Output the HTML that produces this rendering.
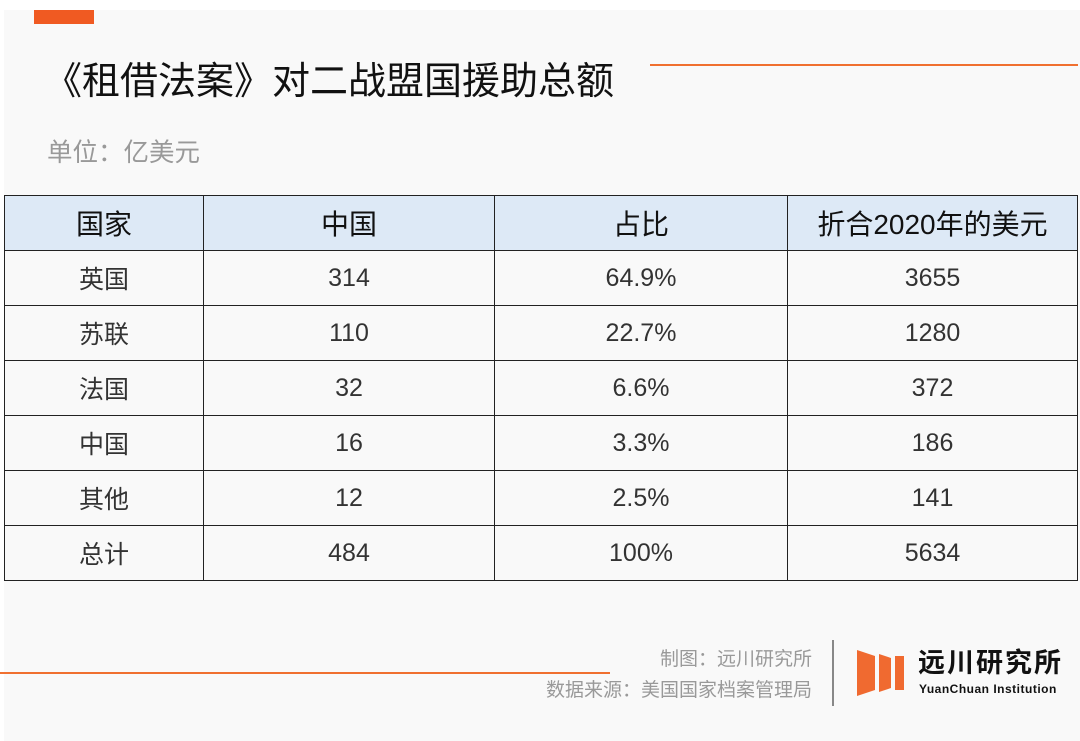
<!DOCTYPE html>
<html><head><meta charset="utf-8"><style>
body{margin:0;width:1080px;height:741px;background:#fff;position:relative;overflow:hidden;font-family:"Liberation Sans","Noto Sans CJK SC",sans-serif;}
.card{position:absolute;left:4px;top:10px;width:1076px;height:731px;background:#f9f9f9;}
.abs{position:absolute;}
table{position:absolute;left:4px;top:195px;border-collapse:collapse;width:1074px;}
td{border:1.5px solid #222;height:54px;padding:0;text-align:center;font-size:25px;color:#333;}
tr.h td{background:#dde9f6;font-size:28px;color:#111;}
</style></head><body>
<div class="card"></div>
<div class="abs" style="left:34px;top:10px;width:60px;height:14px;background:#f05a22;"></div>
<div class="abs" style="left:44px;top:50px;font-size:38px;color:#111;white-space:nowrap;">《租借法案》对二战盟国援助总额</div>
<div class="abs" style="left:650px;top:64px;width:428px;height:2px;background:#f07030;"></div>
<div class="abs" style="left:47px;top:132px;font-size:25.5px;color:#999;">单位：亿美元</div>
<table>
<colgroup><col style="width:199px"><col style="width:291px"><col style="width:293px"><col></colgroup>
<tr class="h"><td>国家</td><td>中国</td><td>占比</td><td>折合2020年的美元</td></tr>
<tr><td>英国</td><td>314</td><td>64.9%</td><td>3655</td></tr>
<tr><td>苏联</td><td>110</td><td>22.7%</td><td>1280</td></tr>
<tr><td>法国</td><td>32</td><td>6.6%</td><td>372</td></tr>
<tr><td>中国</td><td>16</td><td>3.3%</td><td>186</td></tr>
<tr><td>其他</td><td>12</td><td>2.5%</td><td>141</td></tr>
<tr><td>总计</td><td>484</td><td>100%</td><td>5634</td></tr>
</table>
<div class="abs" style="left:0;top:672px;width:610px;height:2px;background:#f07030;"></div>
<div class="abs" style="right:268px;top:644px;font-size:19px;color:#999;text-align:right;line-height:31px;white-space:nowrap;">制图：远川研究所<br>数据来源：美国国家档案管理局</div>
<div class="abs" style="left:832px;top:640px;width:2px;height:66px;background:#888;"></div>
<svg class="abs" style="left:855px;top:648px" width="52" height="50">
<polygon points="2,2 20,8 20,42 2,48" fill="#f06a30"/>
<polygon points="24,6 36,10 36,40 24,44" fill="#f06a30"/>
<rect x="40" y="8" width="9" height="34" fill="#f06a30"/>
</svg>
<div class="abs" style="left:918px;top:646px;font-size:27px;font-weight:bold;color:#111;letter-spacing:2px;white-space:nowrap;line-height:34px;">远川研究所</div>
<div class="abs" style="left:919px;top:682px;font-size:12px;font-weight:bold;color:#111;letter-spacing:0.5px;white-space:nowrap;line-height:14px;">YuanChuan Institution</div>
</body></html>
